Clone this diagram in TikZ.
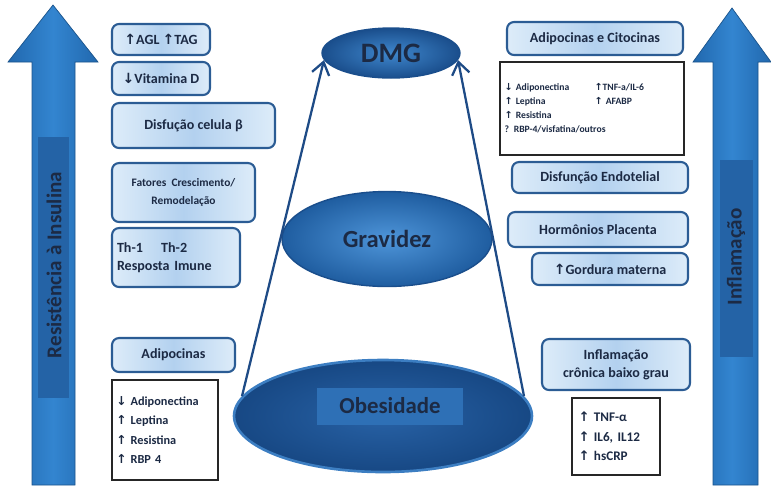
\documentclass[tikz,border=0pt]{standalone}
\usepackage{fontspec}
\setmainfont{Carlito}
\newfontfamily\arrowfont{DejaVu Sans}
\usetikzlibrary{shapes.geometric,arrows.meta}

\definecolor{boxline}{HTML}{2B5C94}
\definecolor{boxlight}{HTML}{DDECF9}
\definecolor{boxband}{HTML}{B3D1EF}
\definecolor{navy}{HTML}{1C2A44}
\definecolor{arrowblue}{HTML}{3385D0}
\definecolor{arrowdark}{HTML}{2168AE}
\definecolor{arrowband}{HTML}{2463A6}
\definecolor{linkblue}{HTML}{1E4B86}
\definecolor{dmgin}{HTML}{3F87CD}
\definecolor{dmgout}{HTML}{1A4E8C}
\definecolor{gravin}{HTML}{4E95D9}
\definecolor{gravout}{HTML}{1F5DA0}
\definecolor{obesin}{HTML}{2862A6}
\definecolor{obesout}{HTML}{174884}
\definecolor{obesrim}{HTML}{3C7EC2}
\definecolor{obesband}{HTML}{2E70B6}

\newcommand{\up}{{\arrowfont ↑}}
\newcommand{\dn}{{\arrowfont ↓}}

\tikzset{
  factorbox/.style={draw=boxline, line width=1.2pt, rounded corners=4pt,
    left color=boxlight, right color=boxlight, middle color=boxband,
    text=navy, align=center, inner sep=1pt,
    font=\fontsize{8}{10}\selectfont\bfseries},
  listbox/.style={draw=black!85, line width=0.9pt, fill=white, text=navy,
    inner sep=0pt, align=left},
  stage/.style={ellipse, inner sep=0pt, text=navy, shading=radial},
  linkarrow/.style={draw=linkblue, line width=1.3pt,
    -{Straight Barb[length=7pt,width=10pt]}},
  bigarrow/.style={left color=arrowdark, right color=arrowdark,
    middle color=arrowblue, draw=arrowdark!80!black, line width=0.4pt},
  sidetext/.style={rotate=90, text=navy, font=\fontsize{12}{14}\selectfont\bfseries}
}

\begin{document}
\begin{tikzpicture}[x=0.02cm, y=-0.02cm]
% Canvas of the reference size
\useasboundingbox (0,0) rectangle (771,485);

% Big arrows at both sides
\draw[bigarrow] (53,5) -- (98,62) -- (75,62) -- (75,485) -- (32,485) -- (32,62) -- (8,62) -- cycle;
\fill[arrowband] (38,137) rectangle (69,398);
\node[sidetext] (resist) at (54,265) {Resistência à Insulina};
\draw[bigarrow] (732,8) -- (771,62) -- (758,62) -- (758,485) -- (713,485) -- (713,62) -- (693,62) -- cycle;
\fill[arrowband] (720,160) rectangle (753,357);
\node[sidetext] (infl) at (736,257) {Inflamação};

% The three stages
\node[stage, minimum width=5.96cm, minimum height=2.24cm, inner color=obesin, outer color=obesout,
  draw=obesrim, line width=1.5pt] (obes) at (383,416) {};
\node[fill=obesband, minimum width=2.92cm, minimum height=0.74cm, text=navy,
  font=\fontsize{13}{15}\selectfont\bfseries] (obeslabel) at (390,406) {Obesidade};
\node[stage, minimum width=4.2cm, minimum height=1.9cm, inner color=gravin, outer color=gravout,
  draw=dmgout, line width=0.8pt, font=\fontsize{14}{16}\selectfont\bfseries] (grav) at (387,239) {Gravidez};
\node[stage, minimum width=2.76cm, minimum height=1.0cm, inner color=dmgin, outer color=dmgout,
  draw=dmgout, line width=0.8pt, font=\fontsize{16}{18}\selectfont\bfseries] (dmg) at (391,53) {DMG};

\draw[linkarrow] (obes.172) -- (dmg.186);
\draw[linkarrow] (obes.8) -- (dmg.354);

% Left column
\node[factorbox, minimum width=1.96cm, minimum height=0.62cm] (agl) at (161,39.5) {\up AGL \up TAG};
\node[factorbox, minimum width=1.96cm, minimum height=0.66cm] (vitd) at (161,78.5) {\dn Vitamina D};
\node[factorbox, minimum width=3.26cm, minimum height=0.9cm] (beta) at (193.5,125.5) {Disfução celula β};
\node[factorbox, minimum width=2.86cm, minimum height=1.18cm, font=\fontsize{6.5}{10}\selectfont\bfseries] (growth) at (183.5,192.5) {Fatores~~Crescimento/\\Remodelação};
\node[factorbox, minimum width=2.56cm, minimum height=1.18cm, align=left, text width=2.36cm] (immune) at (176,257.5) {Th-1\hspace{1.3em}Th-2\\Resposta Imune};
\node[factorbox, minimum width=2.46cm, minimum height=0.68cm] (adipo) at (173.5,355) {Adipocinas};
\node[listbox, minimum width=2.12cm, minimum height=2.0cm, text width=1.95cm,
  font=\fontsize{7}{11}\selectfont\bfseries] (adipolist) at (165,430)
  {\dn\ Adiponectina\\\up\ Leptina\\\up\ Resistina\\\up\ RBP 4};

% Right column
\node[factorbox, minimum width=3.52cm, minimum height=0.66cm] (adcit) at (595,38.5) {Adipocinas e Citocinas};
\node[listbox, minimum width=3.68cm, minimum height=1.86cm, text width=3.5cm,
  font=\fontsize{5.5}{8}\selectfont\bfseries] (adcitlist) at (592,108.5)
  {\begin{tabular}{@{}p{1.8cm}@{}l@{}}
  \dn\ Adiponectina & \up TNF-a/IL-6\\
  \up\ Leptina & \up\ AFABP\\
  \up\ Resistina & \\
  \multicolumn{2}{@{}l@{}}{? RBP-4/visfatina/outros}
  \end{tabular}};
\node[factorbox, minimum width=3.52cm, minimum height=0.62cm] (endo) at (600,177.5) {Disfunção Endotelial};
\node[factorbox, minimum width=3.6cm, minimum height=0.7cm] (horm) at (598,229.5) {Hormônios Placenta};
\node[factorbox, minimum width=3.12cm, minimum height=0.64cm] (fat) at (610,269) {\up Gordura materna};
\node[factorbox, minimum width=2.96cm, minimum height=1.02cm] (chronic) at (616,364.5) {Inflamação\\crônica baixo grau};
\node[listbox, minimum width=1.76cm, minimum height=1.54cm, text width=1.5cm,
  font=\fontsize{7.5}{11}\selectfont\bfseries] (cytolist) at (616,436.5)
  {\up\ TNF-α\\\up\ IL6, IL12\\\up\ hsCRP};
\end{tikzpicture}
\end{document}
